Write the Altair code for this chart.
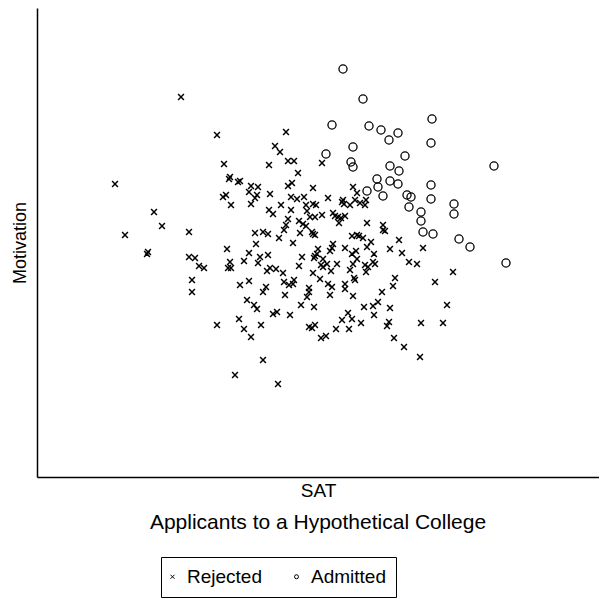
import altair as alt
import pandas as pd

# Values (arbitrary units: SAT on x, Motivation on y)
sat_rejected = [181,217,286,115,154,224,275,280,269,288,294,298,230,229,238,240,251,258,288,292,
    249,223,226,257,255,270,231,251,281,291,297,269,273,291,288,286,284,304,306,307,
    162,125,189,147,148,189,195,199,204,192,192,217,227,230,228,231,235,239,244,251,
    263,278,240,249,244,249,255,256,263,268,260,268,258,279,293,267,270,276,283,284,
    289,293,294,266,263,285,247,254,257,273,277,290,261,299,301,322,313,353,357,328,
    343,342,344,350,355,360,366,365,313,316,310,315,322,333,335,338,341,345,339,367,
    383,383,385,299,303,306,300,312,313,315,352,357,359,363,371,399,390,402,423,318,
    333,332,330,345,356,352,357,367,374,302,315,314,317,323,321,323,327,331,337,353,
    350,365,368,373,375,366,409,417,453,313,320,328,332,345,345,354,355,395,393,382,
    435,309,309,307,330,353,314,364,373,378,390,447,374,348,342,352,361,389,387,421,
    443,309,312,315,336,349,321,326,394,404,420]
mot_rejected = [383,345,348,296,268,316,334,328,315,319,319,307,303,301,298,299,294,293,294,297,
    288,283,285,285,282,286,275,276,275,283,281,270,266,270,261,255,250,283,275,269,
    254,245,248,226,228,223,222,214,212,200,188,155,231,218,212,212,105,161,151,143,
    120,96,195,199,219,227,247,236,248,246,223,225,217,242,237,209,212,211,207,198,
    195,196,200,193,188,185,180,175,171,166,168,165,155,214,175,317,292,293,287,282,
    280,278,276,275,280,277,280,275,276,275,263,263,265,267,264,263,262,264,257,257,
    255,250,249,259,256,254,247,248,246,245,244,245,244,242,238,240,231,227,232,231,
    236,232,229,232,229,226,221,233,226,223,224,222,226,221,215,213,216,209,216,216,
    210,215,213,218,216,208,218,216,208,207,201,196,193,196,191,202,200,202,194,188,
    198,192,188,183,185,184,173,173,174,178,172,175,165,167,160,161,157,158,154,157,
    157,153,152,155,151,151,142,144,142,133,123]

sat_admitted = [343,363,332,369,381,398,389,432,431,353,326,405,351,353,390,399,494,377,390,398,
    378,431,367,383,407,411,431,454,454,409,421,421,423,433,459,470,506]
mot_admitted = [411,381,355,354,350,347,340,361,337,333,326,324,318,313,314,309,314,301,299,296,
    293,295,289,284,285,283,281,276,266,273,268,259,248,246,241,233,217]

status_labels = ["Rejected", "Admitted"]

df = pd.DataFrame({
    "SAT": sat_rejected + sat_admitted,
    "Motivation": mot_rejected + mot_admitted,
    "Status": [status_labels[0]] * len(sat_rejected) + [status_labels[1]] * len(sat_admitted),
})

x_path = "M-1,-1L1,1M-1,1L1,-1"
FONT = "Liberation Sans"

x_enc = alt.X("SAT:Q", scale=alt.Scale(domain=[37, 599], nice=False, zero=False),
              axis=alt.Axis(title="SAT", ticks=False, labels=False, grid=False,
                            domainColor="black", domainWidth=1.5, titleFontSize=19,
                            titleFont=FONT, titleFontWeight="normal", titleColor="black",
                            titlePadding=4))
y_enc = alt.Y("Motivation:Q", scale=alt.Scale(domain=[3, 472], nice=False, zero=False),
              axis=alt.Axis(title="Motivation", ticks=False, labels=False, grid=False,
                            domainColor="black", domainWidth=1.5, titleFontSize=18,
                            titleFont=FONT, titleFontWeight="normal", titleColor="black",
                            titlePadding=8))
shape_enc = alt.Shape("Status:N",
                      scale=alt.Scale(domain=status_labels, range=[x_path, "circle"]),
                      legend=alt.Legend(title=None, orient="none", legendX=124, legendY=549,
                                        direction="horizontal", strokeColor="black",
                                        fillColor="white", padding=10, labelFontSize=19,
                                        labelFont=FONT, labelColor="black", symbolSize=16,
                                        symbolStrokeColor="black", symbolStrokeWidth=1,
                                        symbolFillColor="transparent", symbolOffset=-8,
                                        columnPadding=30, labelOffset=5))

base = alt.Chart(df)
rejected = base.transform_filter(alt.datum.Status == "Rejected").mark_point(
    filled=False, color="black", opacity=1, size=34, strokeWidth=1.5
).encode(x=x_enc, y=y_enc, shape=shape_enc)
admitted = base.transform_filter(alt.datum.Status == "Admitted").mark_point(
    filled=False, color="black", opacity=1, size=66, strokeWidth=1.3
).encode(x=x_enc, y=y_enc, shape=shape_enc)

chart = alt.layer(rejected, admitted).properties(
    width=562,
    height=469,
    padding={"left": 29, "top": 0, "right": 0, "bottom": 123},
    autosize=alt.AutoSizeParams(type="none"),
    title=alt.TitleParams("Applicants to a Hypothetical College", orient="bottom",
                          fontSize=21, font=FONT, fontWeight="normal", color="black",
                          anchor="middle", frame="group", offset=-86),
).configure_view(stroke=None)

chart.save("out.html", embed_options={"renderer": "svg", "actions": False})
